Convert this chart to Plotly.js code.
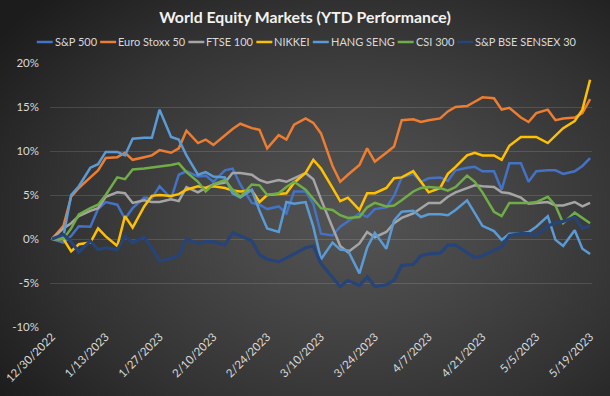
<!DOCTYPE html>
<html><head><meta charset="utf-8">
<script src="https://cdn.plot.ly/plotly-3.0.1.min.js"></script>
<style>
html,body{margin:0;padding:0;background:#262626;}
#chart{width:610px;height:396px;background:radial-gradient(ellipse 72% 78% at 58% 55%, #545454 0%, #474747 30%, #323232 68%, #1c1c1c 100%);}
</style></head><body><div id="chart"></div>
<script>
const dates = ['2022-12-30','2023-01-02','2023-01-04','2023-01-06','2023-01-09','2023-01-11','2023-01-13','2023-01-16','2023-01-18','2023-01-20',
 '2023-01-23','2023-01-25','2023-01-27','2023-01-30','2023-02-01','2023-02-03','2023-02-06','2023-02-08','2023-02-10','2023-02-13',
 '2023-02-15','2023-02-17','2023-02-20','2023-02-22','2023-02-24','2023-02-27','2023-03-01','2023-03-03','2023-03-06','2023-03-08',
 '2023-03-10','2023-03-13','2023-03-15','2023-03-17','2023-03-20','2023-03-22','2023-03-24','2023-03-27','2023-03-29','2023-03-31',
 '2023-04-03','2023-04-05','2023-04-07','2023-04-10','2023-04-12','2023-04-14','2023-04-17','2023-04-19','2023-04-21','2023-04-24',
 '2023-04-26','2023-04-28','2023-05-01','2023-05-03','2023-05-05','2023-05-08','2023-05-10','2023-05-12','2023-05-15','2023-05-17','2023-05-19'];

const sp500 = [0,-0.4,0.35,1.45,1.4,3.4,4.2,3.9,2.3,3.5,
 4.7,4.6,6.0,4.6,7.3,7.7,7.1,7.2,6.5,7.8,
 8.0,6.2,4.1,3.9,3.4,3.7,2.9,5.4,5.4,4.0,
 0.6,0.4,1.4,2.0,2.9,2.5,3.4,3.6,4.9,7.0,
 7.4,6.5,6.9,7.0,6.6,7.8,8.1,8.2,7.7,7.7,
 5.6,8.6,8.6,6.5,7.7,7.8,7.8,7.4,7.7,8.3,9.2];

const euroStoxx50 = [0,1.5,4.8,5.8,7.0,7.8,9.2,9.3,9.8,9.0,
 9.3,9.5,10.1,9.8,10.3,12.3,10.9,11.3,10.7,11.8,
 12.5,13.1,12.6,12.4,10.3,11.8,11.3,13.0,13.7,13.2,
 12.0,8.3,6.5,7.3,8.4,10.3,8.8,9.8,10.5,13.5,
 13.6,13.3,13.5,13.7,14.5,15.0,15.1,15.6,16.1,16.0,
 14.7,14.9,13.8,13.3,14.3,14.7,13.5,13.7,13.8,14.3,15.9];

const ftse100 = [0,1.2,1.8,2.6,3.2,3.5,4.8,5.3,5.2,4.1,
 4.4,4.2,4.2,4.5,4.3,5.9,5.3,5.8,6.2,6.4,
 7.5,7.5,7.3,6.7,6.4,6.7,6.5,6.9,7.5,6.8,
 4.5,1.3,-0.8,-1.5,-0.5,0.8,0.2,0.8,1.8,2.4,
 2.9,3.5,4.1,4.1,4.8,5.3,5.8,6.1,6.0,5.9,
 5.3,5.2,4.7,4.0,4.1,4.2,3.8,3.8,4.2,3.7,4.1];

const nikkei = [0,0,-1.4,-0.6,-0.4,1.2,0.3,-0.8,2.6,1.3,
 3.7,4.9,5.0,4.9,5.1,5.6,6.0,5.8,6.0,5.8,
 5.5,5.4,5.5,4.2,5.0,5.1,5.2,6.4,7.5,9.0,
 8.0,5.8,4.3,4.7,3.3,5.2,5.2,5.8,6.9,7.0,
 7.7,6.5,5.3,5.8,7.4,8.2,9.5,9.8,9.5,9.5,
 9.0,10.6,11.6,11.6,11.6,10.9,11.8,12.6,13.4,14.7,18.1];

const hangSeng = [0,0.3,5.0,6.0,8.1,8.5,9.9,9.9,9.5,11.4,
 11.5,11.5,14.7,11.6,11.3,9.5,7.3,7.6,7.1,7.0,
 5.2,4.7,5.6,3.2,1.2,0.8,4.2,4.0,4.2,1.4,
 -2.3,-0.4,-1.2,-1.3,-3.9,-1.0,0.7,-1.1,2.1,3.1,
 3.2,2.5,2.8,2.8,2.7,3.3,4.4,3.0,1.5,0.9,
 -0.1,0.6,0.6,0.8,1.4,2.6,-0.1,-0.8,1.0,-1.1,-1.7];

const csi300 = [0,0,1.2,2.8,3.5,3.9,5.0,7.0,6.8,7.9,
 8.0,8.1,8.2,8.4,8.6,7.6,6.5,5.4,6.2,6.7,
 5.6,4.8,6.2,6.1,5.0,5.2,5.9,6.5,5.6,4.6,
 3.5,3.3,2.7,2.4,2.5,3.6,4.1,3.7,3.8,4.4,
 5.4,5.8,5.9,5.8,5.5,5.9,7.2,6.5,5.3,3.1,
 2.6,4.1,4.1,4.1,4.2,4.8,3.8,1.8,3.0,2.4,1.8];

const sensex30 = [0,0.5,-0.3,-1.5,-0.2,-1.2,-1.0,-1.2,0.3,-0.4,
 0.2,-1.0,-2.5,-2.2,-1.9,0.0,-0.5,-0.3,-0.3,-0.7,
 0.7,0.3,-0.2,-1.8,-2.3,-2.6,-2.2,-1.7,-1.0,-0.8,
 -2.8,-4.3,-5.4,-4.7,-5.3,-4.3,-5.4,-5.2,-4.7,-3.0,
 -2.9,-1.9,-1.7,-1.6,-0.7,-0.7,-1.5,-2.1,-1.9,-1.3,
 -0.9,0.4,0.6,0.6,0.4,1.5,1.8,2.0,2.5,1.2,1.5];

const seriesNames = ['S&P 500','Euro Stoxx 50','FTSE 100','NIKKEI','HANG SENG','CSI 300','S&P BSE SENSEX 30'];
const seriesValues = [sp500, euroStoxx50, ftse100, nikkei, hangSeng, csi300, sensex30];

const tickDates = ['2022-12-30','2023-01-13','2023-01-27','2023-02-10','2023-02-24','2023-03-10','2023-03-24','2023-04-07','2023-04-21','2023-05-05','2023-05-19'];
const tickLabels = ['12/30/2022','1/13/2023','1/27/2023','2/10/2023','2/24/2023','3/10/2023','3/24/2023','4/7/2023','4/21/2023','5/5/2023','5/19/2023'];
const yTickValues = [-10,-5,0,5,10,15,20];
const yTickLabels = ['-10%','-5%','0%','5%','10%','15%','20%'];

// styling (not data)
const colors = ['#4472C4','#ED7D31','#A5A5A5','#FFC000','#5B9BD5','#70AD47','#264478'];
const widths = [2.5,2.5,2.5,2.5,2.5,2.5,3.2];
const FONT = 'Lato, "Open Sans", sans-serif';
const W = 610, H = 396, ML = 50, MR = 18, MT = 63, MB = 69;
const PW = W - ML - MR, PH = H - MT - MB;

const traces = seriesNames.map((n, i) => ({
  type: 'scatter', mode: 'lines', name: n, x: dates, y: seriesValues[i],
  line: {color: colors[i], width: widths[i]}, showlegend: false
}));

// Excel-style legend (short line keys) laid out from measured text widths
const LEG_SIZE = 11;
const ctx = document.createElement('canvas').getContext('2d');
ctx.font = LEG_SIZE + 'px Lato';
const KEY = 16, KEYGAP = 2, ITEMGAP = 3;
const textW = seriesNames.map(n => ctx.measureText(n).width);
const totalW = textW.reduce((a, w) => a + KEY + KEYGAP + w + ITEMGAP, 0) - ITEMGAP;
let cur = 306.5 - totalW / 2;
const legendY = 42;
const toPx = px => (px - ML) / PW;
const toPy = py => (H - MB - py) / PH;
const shapes = [], annotations = [];
seriesNames.forEach((n, i) => {
  shapes.push({type: 'line', xref: 'paper', yref: 'paper',
    x0: toPx(cur), x1: toPx(cur + KEY),
    y0: toPy(legendY), y1: toPy(legendY), line: {color: colors[i], width: 2.5}});
  annotations.push({xref: 'paper', yref: 'paper', x: toPx(cur + KEY + KEYGAP - 1), y: toPy(legendY),
    xanchor: 'left', yanchor: 'middle', text: n, showarrow: false,
    font: {family: FONT, size: LEG_SIZE, color: '#d9d9d9'}, borderpad: 0});
  cur += KEY + KEYGAP + textW[i] + ITEMGAP;
});

const layout = {
  width: W, height: H,
  margin: {l: ML, r: MR, t: MT, b: MB},
  paper_bgcolor: 'rgba(0,0,0,0)', plot_bgcolor: 'rgba(0,0,0,0)',
  font: {family: FONT, color: '#d9d9d9'},
  title: {text: 'World Equity Markets (YTD Performance)', xref: 'container', x: 0.5, xanchor: 'center',
    yref: 'container', y: 1 - 17 / H, yanchor: 'middle',
    font: {family: FONT, size: 15.8, color: '#f2f2f2', weight: 700}},
  xaxis: {type: 'date', range: ['2022-12-29 12:00', '2023-05-19 12:00'],
    tickvals: tickDates, ticktext: tickLabels, tickangle: -45,
    tickfont: {family: FONT, size: 11.5, color: '#d9d9d9'},
    showgrid: false, zeroline: false, showline: false, ticks: ''},
  yaxis: {range: [-10, 20], tickvals: yTickValues, ticktext: yTickLabels,
    tickfont: {family: FONT, size: 11.5, color: '#d9d9d9'},
    showgrid: true, gridcolor: 'rgba(255,255,255,0.13)', gridwidth: 1,
    zeroline: false, showline: false, ticks: '', ticklabelstandoff: 10},
  shapes: shapes, annotations: annotations, showlegend: false
};

Plotly.newPlot('chart', traces, layout, {staticPlot: true, displayModeBar: false});
</script></body></html>
